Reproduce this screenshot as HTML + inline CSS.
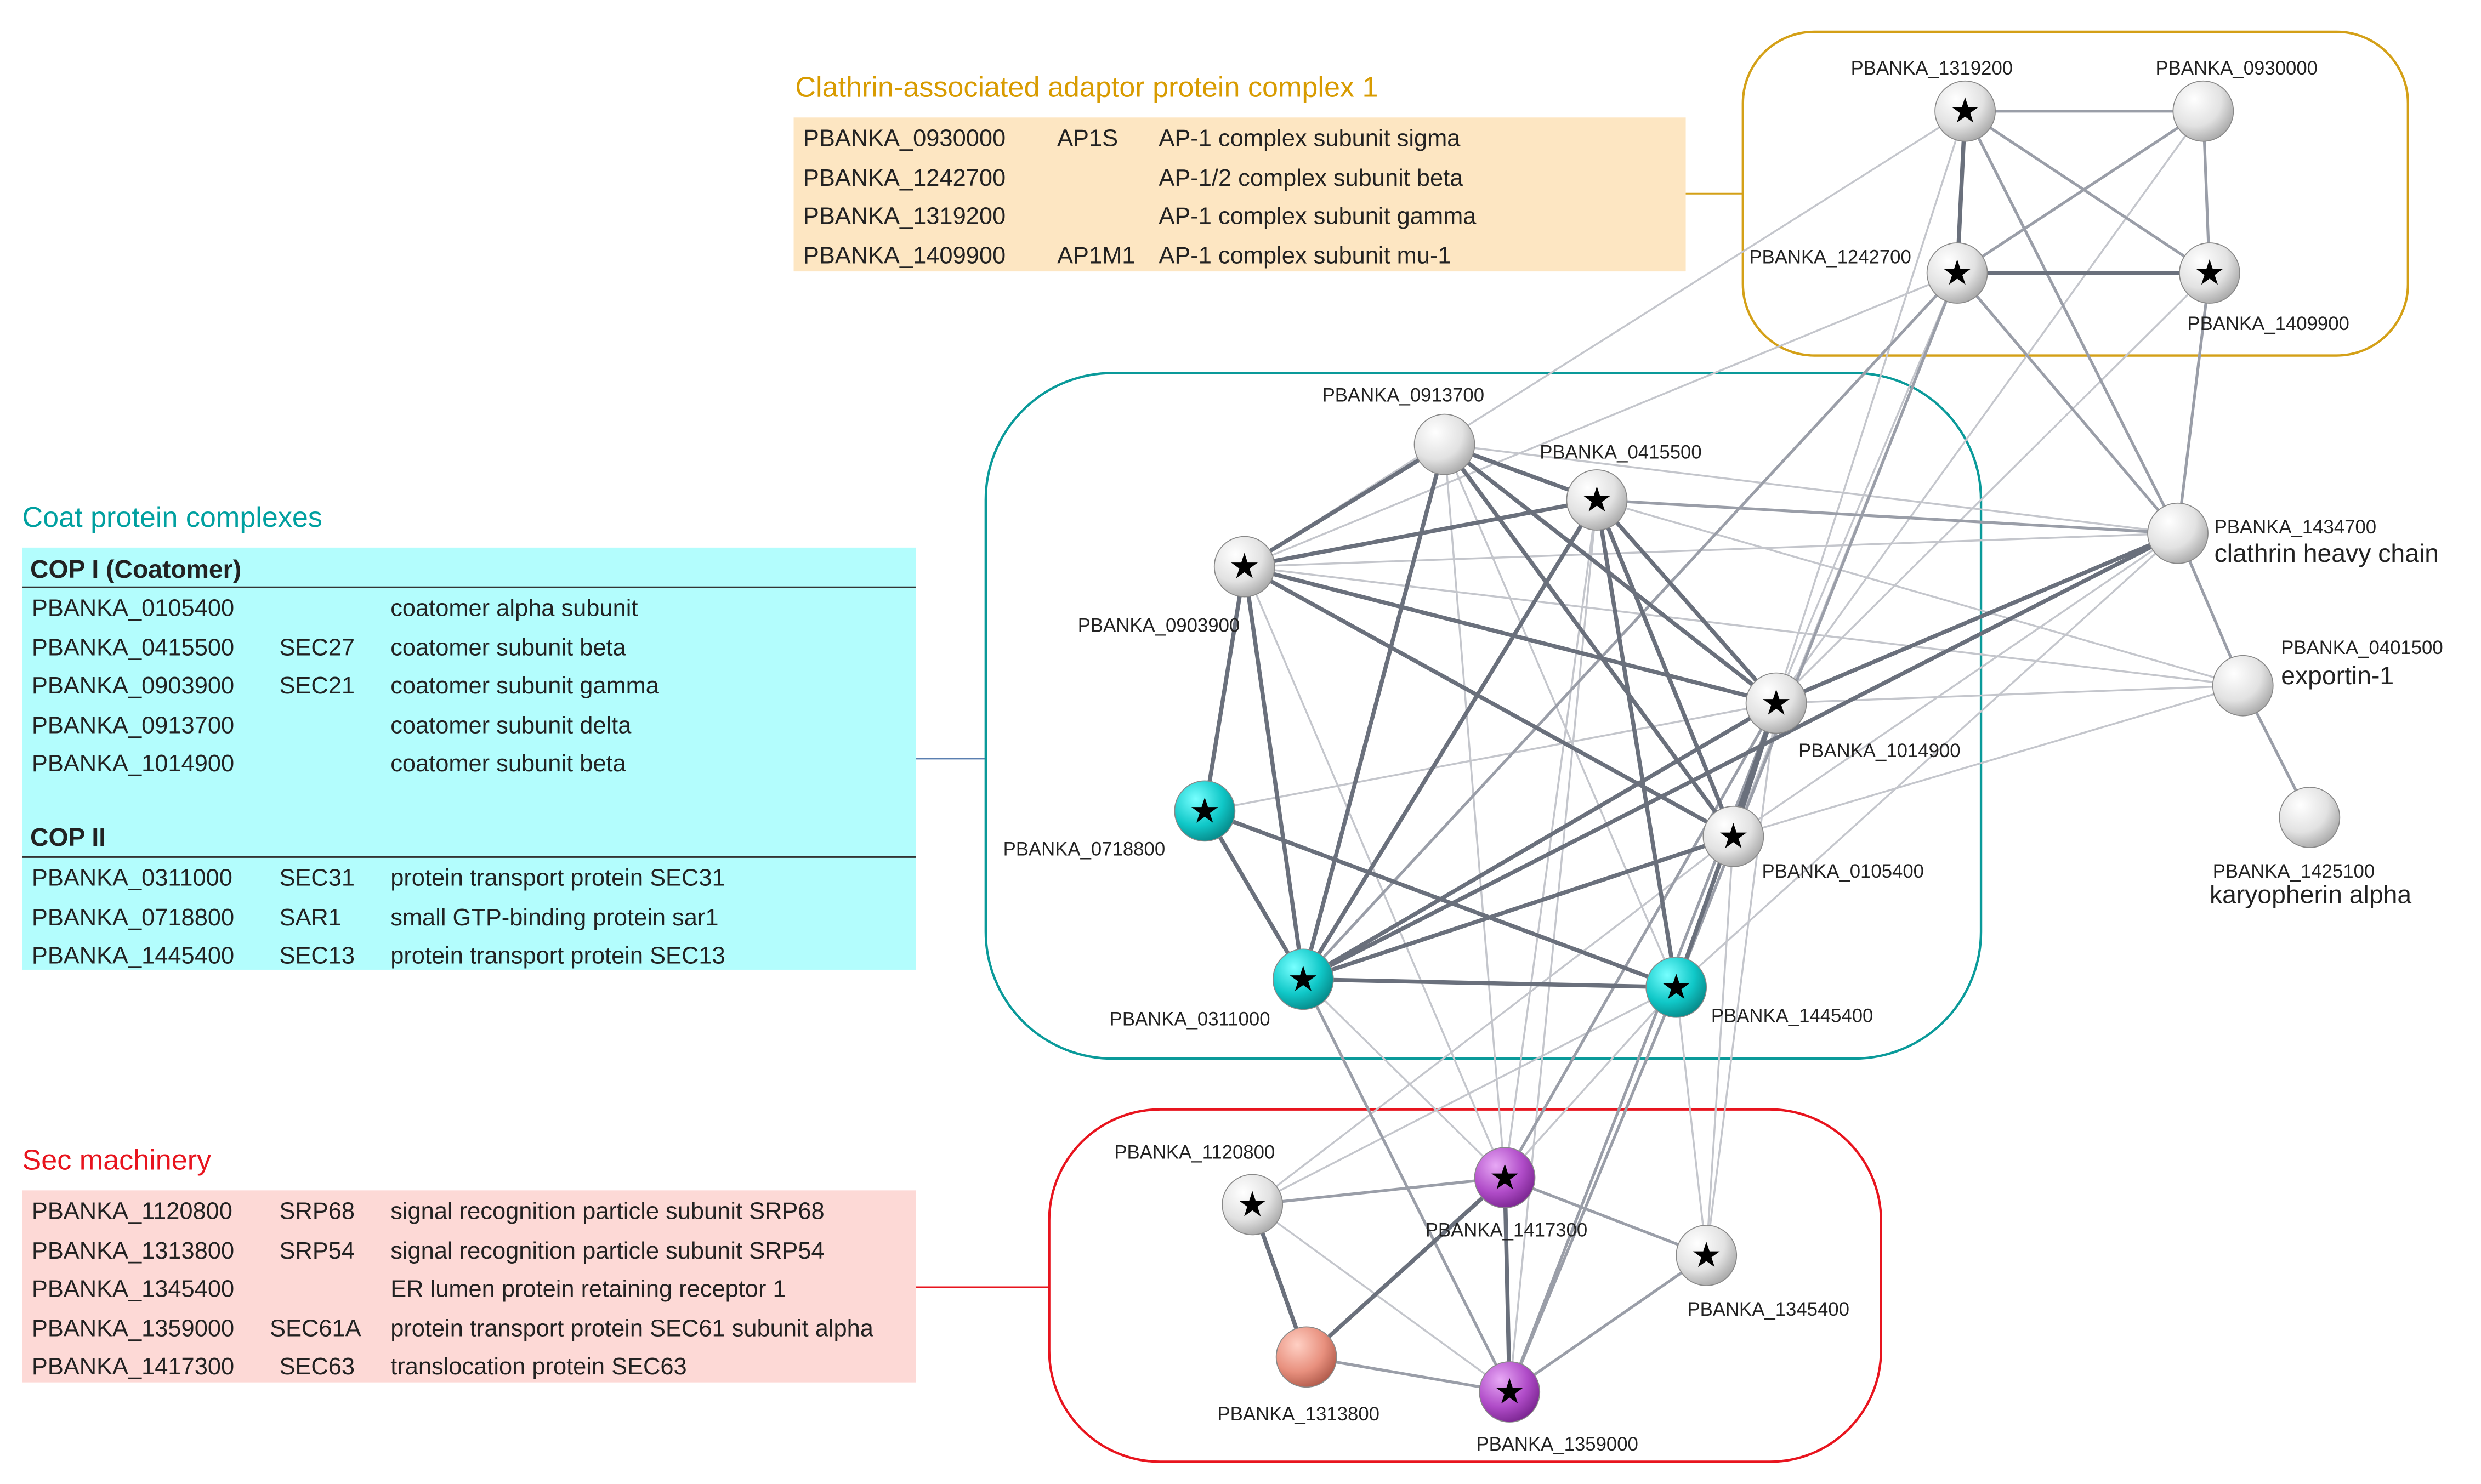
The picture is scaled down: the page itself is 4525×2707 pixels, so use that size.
<!DOCTYPE html>
<html><head><meta charset="utf-8"><style>
html,body{margin:0;padding:0;background:#fff;}
svg{display:block;}
.t{font-family:"Liberation Sans",sans-serif;font-size:15px;fill:#222;}
.l{font-family:"Liberation Sans",sans-serif;font-size:12px;fill:#222;}
.b{font-family:"Liberation Sans",sans-serif;font-size:16px;fill:#222;}
.h{font-family:"Liberation Sans",sans-serif;font-size:18px;}
.s{font-family:"DejaVu Sans",sans-serif;font-size:22px;fill:#000;text-anchor:middle;dominant-baseline:central;}
</style></head><body>
<svg width="4525" height="2707" viewBox="0 0 1563 935" xmlns="http://www.w3.org/2000/svg">
<defs>
<radialGradient id="gw" cx="0.35" cy="0.3" r="0.75"><stop offset="0" stop-color="#ffffff"/><stop offset="0.6" stop-color="#e2e2e2"/><stop offset="1" stop-color="#a8a8a8"/></radialGradient>
<radialGradient id="gc" cx="0.35" cy="0.3" r="0.75"><stop offset="0" stop-color="#7ff"/><stop offset="0.6" stop-color="#10c8c8"/><stop offset="1" stop-color="#068888"/></radialGradient>
<radialGradient id="gp" cx="0.35" cy="0.3" r="0.75"><stop offset="0" stop-color="#e7a8f5"/><stop offset="0.6" stop-color="#b04cc8"/><stop offset="1" stop-color="#7a2590"/></radialGradient>
<radialGradient id="gs" cx="0.35" cy="0.3" r="0.75"><stop offset="0" stop-color="#ffd0c4"/><stop offset="0.6" stop-color="#e8907e"/><stop offset="1" stop-color="#b05a4a"/></radialGradient>
</defs>

<!-- titles & tables -->
<text class="h" x="501" y="61" fill="#d89b00">Clathrin-associated adaptor protein complex 1</text>
<rect x="500" y="74" width="562" height="97" fill="#fde6c2"/>
<g class="t">
<text x="506" y="92">PBANKA_0930000</text><text x="666" y="92">AP1S</text><text x="730" y="92">AP-1 complex subunit sigma</text>
<text x="506" y="117">PBANKA_1242700</text><text x="730" y="117">AP-1/2 complex subunit beta</text>
<text x="506" y="141">PBANKA_1319200</text><text x="730" y="141">AP-1 complex subunit gamma</text>
<text x="506" y="166">PBANKA_1409900</text><text x="666" y="166">AP1M1</text><text x="730" y="166">AP-1 complex subunit mu-1</text>
</g>
<line x1="1062" y1="122" x2="1098" y2="122" stroke="#d4a017" stroke-width="1"/>

<text class="h" x="14" y="332" fill="#00a0a0">Coat protein complexes</text>
<rect x="14" y="345" width="563" height="266" fill="#b3fdfd"/>
<text class="b" x="19" y="364" font-weight="bold">COP I (Coatomer)</text>
<line x1="14" y1="370" x2="577" y2="370" stroke="#333" stroke-width="1"/>
<g class="t">
<text x="20" y="388">PBANKA_0105400</text><text x="246" y="388">coatomer alpha subunit</text>
<text x="20" y="413">PBANKA_0415500</text><text x="176" y="413">SEC27</text><text x="246" y="413">coatomer subunit beta</text>
<text x="20" y="437">PBANKA_0903900</text><text x="176" y="437">SEC21</text><text x="246" y="437">coatomer subunit gamma</text>
<text x="20" y="462">PBANKA_0913700</text><text x="246" y="462">coatomer subunit delta</text>
<text x="20" y="486">PBANKA_1014900</text><text x="246" y="486">coatomer subunit beta</text>
</g>
<text class="b" x="19" y="533" font-weight="bold">COP II</text>
<line x1="14" y1="540" x2="577" y2="540" stroke="#333" stroke-width="1"/>
<g class="t">
<text x="20" y="558">PBANKA_0311000</text><text x="176" y="558">SEC31</text><text x="246" y="558">protein transport protein SEC31</text>
<text x="20" y="583">PBANKA_0718800</text><text x="176" y="583">SAR1</text><text x="246" y="583">small GTP-binding protein sar1</text>
<text x="20" y="607">PBANKA_1445400</text><text x="176" y="607">SEC13</text><text x="246" y="607">protein transport protein SEC13</text>
</g>
<line x1="577" y1="478" x2="621" y2="478" stroke="#5a7fb0" stroke-width="1"/>

<text class="h" x="14" y="737" fill="#e8141e">Sec machinery</text>
<rect x="14" y="750" width="563" height="121" fill="#fdd9d6"/>
<g class="t">
<text x="20" y="768">PBANKA_1120800</text><text x="176" y="768">SRP68</text><text x="246" y="768">signal recognition particle subunit SRP68</text>
<text x="20" y="793">PBANKA_1313800</text><text x="176" y="793">SRP54</text><text x="246" y="793">signal recognition particle subunit SRP54</text>
<text x="20" y="817">PBANKA_1345400</text><text x="246" y="817">ER lumen protein retaining receptor 1</text>
<text x="20" y="842">PBANKA_1359000</text><text x="170" y="842">SEC61A</text><text x="246" y="842">protein transport protein SEC61 subunit alpha</text>
<text x="20" y="866">PBANKA_1417300</text><text x="176" y="866">SEC63</text><text x="246" y="866">translocation protein SEC63</text>
</g>
<line x1="577" y1="811" x2="661" y2="811" stroke="#e8141e" stroke-width="1"/>

<!-- boxes -->
<rect x="1098" y="20" width="419" height="204" rx="45" fill="none" stroke="#d4a017" stroke-width="1.5"/>
<rect x="621" y="235" width="627" height="432" rx="80" fill="none" stroke="#0a9a9a" stroke-width="1.5"/>
<rect x="661" y="699" width="524" height="222" rx="70" fill="none" stroke="#e8141e" stroke-width="1.5"/>

<!-- light edges -->
<g stroke="#c4c6cc" stroke-width="1.2" fill="none">
<line x1="1233" y1="172" x2="784" y2="357"/>
<line x1="1238" y1="70" x2="784" y2="357"/>
<line x1="1233" y1="172" x2="1119" y2="443"/>
<line x1="1233" y1="172" x2="1092" y2="527"/>
<line x1="1392" y1="172" x2="1119" y2="443"/>
<line x1="1388" y1="70" x2="1119" y2="443"/>
<line x1="1238" y1="70" x2="1092" y2="527"/>
<line x1="1413" y1="432" x2="784" y2="357"/>
<line x1="1413" y1="432" x2="1006" y2="315"/>
<line x1="1413" y1="432" x2="1119" y2="443"/>
<line x1="1413" y1="432" x2="1092" y2="527"/>
<line x1="1372" y1="336" x2="784" y2="357"/>
<line x1="1372" y1="336" x2="1092" y2="527"/>
<line x1="1372" y1="336" x2="1056" y2="622"/>
<line x1="1372" y1="336" x2="910" y2="280"/>
<line x1="910" y1="280" x2="948" y2="742"/>
<line x1="910" y1="280" x2="1056" y2="622"/>
<line x1="784" y1="357" x2="948" y2="742"/>
<line x1="1006" y1="315" x2="951" y2="877"/>
<line x1="1092" y1="527" x2="789" y2="759"/>
<line x1="1092" y1="527" x2="1075" y2="791"/>
<line x1="1119" y1="443" x2="1075" y2="791"/>
<line x1="1056" y1="622" x2="1075" y2="791"/>
<line x1="821" y1="617" x2="948" y2="742"/>
<line x1="1056" y1="622" x2="789" y2="759"/>
<line x1="789" y1="759" x2="951" y2="877"/>
<line x1="1006" y1="315" x2="948" y2="742"/>
<line x1="759" y1="511" x2="1119" y2="443"/>
<line x1="1056" y1="622" x2="948" y2="742"/>
</g>
<!-- medium edges -->
<g stroke="#9a9ea8" stroke-width="1.8" fill="none">
<line x1="1238" y1="70" x2="1388" y2="70"/>
<line x1="1233" y1="172" x2="1388" y2="70"/>
<line x1="1388" y1="70" x2="1392" y2="172"/>
<line x1="1238" y1="70" x2="1392" y2="172"/>
<line x1="1392" y1="172" x2="1372" y2="336"/>
<line x1="1238" y1="70" x2="1372" y2="336"/>
<line x1="1233" y1="172" x2="1372" y2="336"/>
<line x1="1372" y1="336" x2="1413" y2="432"/>
<line x1="1413" y1="432" x2="1455" y2="515"/>
<line x1="1372" y1="336" x2="1006" y2="315"/>
<line x1="1233" y1="172" x2="1056" y2="622"/>
<line x1="1233" y1="172" x2="821" y2="617"/>
<line x1="821" y1="617" x2="951" y2="877"/>
<line x1="1119" y1="443" x2="951" y2="877"/>
<line x1="1119" y1="443" x2="948" y2="742"/>
<line x1="789" y1="759" x2="948" y2="742"/>
<line x1="948" y1="742" x2="1075" y2="791"/>
<line x1="951" y1="877" x2="1075" y2="791"/>
<line x1="823" y1="855" x2="951" y2="877"/>
<line x1="1056" y1="622" x2="951" y2="877"/>
</g>
<!-- dark edges -->
<g stroke="#6a707c" stroke-width="2.6" fill="none">
<line x1="1238" y1="70" x2="1233" y2="172"/>
<line x1="1233" y1="172" x2="1392" y2="172"/>
<line x1="784" y1="357" x2="910" y2="280"/>
<line x1="784" y1="357" x2="1006" y2="315"/>
<line x1="784" y1="357" x2="1119" y2="443"/>
<line x1="784" y1="357" x2="1092" y2="527"/>
<line x1="784" y1="357" x2="759" y2="511"/>
<line x1="784" y1="357" x2="821" y2="617"/>
<line x1="910" y1="280" x2="1006" y2="315"/>
<line x1="910" y1="280" x2="1119" y2="443"/>
<line x1="910" y1="280" x2="1092" y2="527"/>
<line x1="910" y1="280" x2="821" y2="617"/>
<line x1="1006" y1="315" x2="1119" y2="443"/>
<line x1="1006" y1="315" x2="1092" y2="527"/>
<line x1="1006" y1="315" x2="1056" y2="622"/>
<line x1="1006" y1="315" x2="821" y2="617"/>
<line x1="1119" y1="443" x2="1092" y2="527"/>
<line x1="1119" y1="443" x2="821" y2="617"/>
<line x1="1119" y1="443" x2="1056" y2="622"/>
<line x1="1092" y1="527" x2="821" y2="617"/>
<line x1="759" y1="511" x2="821" y2="617"/>
<line x1="759" y1="511" x2="1056" y2="622"/>
<line x1="821" y1="617" x2="1056" y2="622"/>
<line x1="1372" y1="336" x2="821" y2="617"/>
<line x1="1372" y1="336" x2="1119" y2="443"/>
<line x1="789" y1="759" x2="823" y2="855"/>
<line x1="823" y1="855" x2="948" y2="742"/>
<line x1="948" y1="742" x2="951" y2="877"/>
</g>

<!-- nodes -->
<g stroke="#888" stroke-width="0.6">
<circle cx="1238" cy="70" r="19" fill="url(#gw)"/>
<circle cx="1388" cy="70" r="19" fill="url(#gw)"/>
<circle cx="1233" cy="172" r="19" fill="url(#gw)"/>
<circle cx="1392" cy="172" r="19" fill="url(#gw)"/>
<circle cx="910" cy="280" r="19" fill="url(#gw)"/>
<circle cx="1006" cy="315" r="19" fill="url(#gw)"/>
<circle cx="784" cy="357" r="19" fill="url(#gw)"/>
<circle cx="1372" cy="336" r="19" fill="url(#gw)"/>
<circle cx="1413" cy="432" r="19" fill="url(#gw)"/>
<circle cx="1455" cy="515" r="19" fill="url(#gw)"/>
<circle cx="1119" cy="443" r="19" fill="url(#gw)"/>
<circle cx="1092" cy="527" r="19" fill="url(#gw)"/>
<circle cx="759" cy="511" r="19" fill="url(#gc)"/>
<circle cx="821" cy="617" r="19" fill="url(#gc)"/>
<circle cx="1056" cy="622" r="19" fill="url(#gc)"/>
<circle cx="789" cy="759" r="19" fill="url(#gw)"/>
<circle cx="948" cy="742" r="19" fill="url(#gp)"/>
<circle cx="1075" cy="791" r="19" fill="url(#gw)"/>
<circle cx="823" cy="855" r="19" fill="url(#gs)"/>
<circle cx="951" cy="877" r="19" fill="url(#gp)"/>
</g>
<g class="s">
<text x="1238" y="70">★</text><text x="1233" y="172">★</text><text x="1392" y="172">★</text>
<text x="1006" y="315">★</text><text x="784" y="357">★</text><text x="1119" y="443">★</text>
<text x="1092" y="527">★</text><text x="759" y="511">★</text><text x="821" y="617">★</text>
<text x="1056" y="622">★</text><text x="789" y="759">★</text><text x="948" y="742">★</text>
<text x="1075" y="791">★</text><text x="951" y="877">★</text>
</g>

<!-- labels -->
<g class="l">
<text x="1166" y="47">PBANKA_1319200</text>
<text x="1358" y="47">PBANKA_0930000</text>
<text x="1102" y="166">PBANKA_1242700</text>
<text x="1378" y="208">PBANKA_1409900</text>
<text x="833" y="253">PBANKA_0913700</text>
<text x="970" y="289">PBANKA_0415500</text>
<text x="679" y="398">PBANKA_0903900</text>
<text x="1395" y="336">PBANKA_1434700</text>
<text x="1437" y="412">PBANKA_0401500</text>
<text x="1394" y="553">PBANKA_1425100</text>
<text x="1133" y="477">PBANKA_1014900</text>
<text x="1110" y="553">PBANKA_0105400</text>
<text x="632" y="539">PBANKA_0718800</text>
<text x="699" y="646">PBANKA_0311000</text>
<text x="1078" y="644">PBANKA_1445400</text>
<text x="702" y="730">PBANKA_1120800</text>
<text x="898" y="779">PBANKA_1417300</text>
<text x="1063" y="829">PBANKA_1345400</text>
<text x="767" y="895">PBANKA_1313800</text>
<text x="930" y="914">PBANKA_1359000</text>
</g>
<g class="b">
<text x="1395" y="354">clathrin heavy chain</text>
<text x="1437" y="431">exportin-1</text>
<text x="1392" y="569">karyopherin alpha</text>
</g>
</svg>
</body></html>
